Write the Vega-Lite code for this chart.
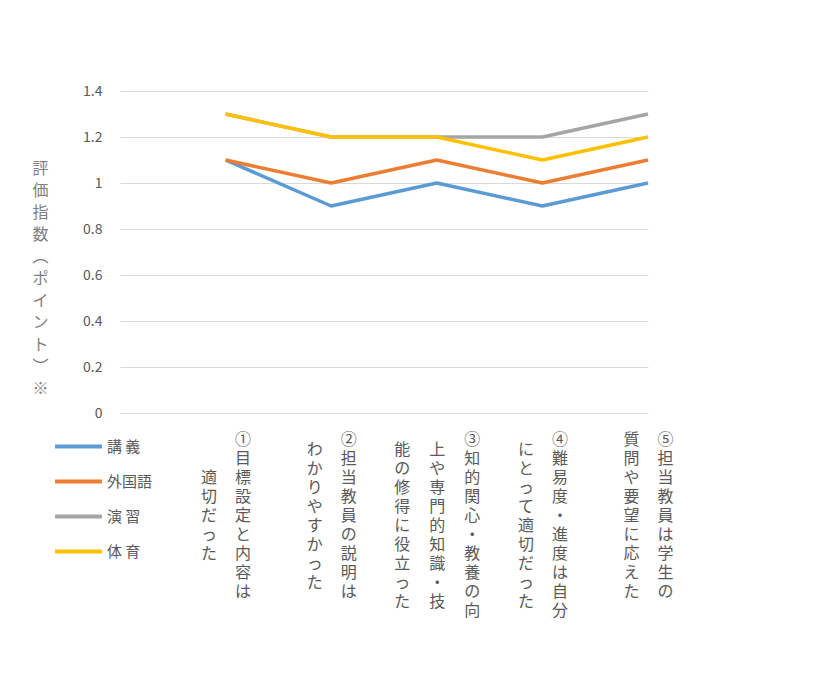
{
  "$schema": "https://vega.github.io/schema/vega-lite/v6.json",
  "width": 528,
  "height": 322,
  "autosize": "none",
  "padding": {"left": 120, "top": 91, "right": 187, "bottom": 268},
  "background": "white",
  "config": {"view": {"stroke": null}, "font": "Noto Sans CJK JP"},
  "data": {
    "values": [
      {"item": "①目標設定と内容は\n適切だった", "series": "講 義", "score": 1.1},
      {"item": "②担当教員の説明は\nわかりやすかった", "series": "講 義", "score": 0.9},
      {"item": "③知的関心・教養の向\n上や専門的知識・技\n能の修得に役立った", "series": "講 義", "score": 1.0},
      {"item": "④難易度・進度は自分\nにとって適切だった", "series": "講 義", "score": 0.9},
      {"item": "⑤担当教員は学生の\n質問や要望に応えた", "series": "講 義", "score": 1.0},
      {"item": "①目標設定と内容は\n適切だった", "series": "外国語", "score": 1.1},
      {"item": "②担当教員の説明は\nわかりやすかった", "series": "外国語", "score": 1.0},
      {"item": "③知的関心・教養の向\n上や専門的知識・技\n能の修得に役立った", "series": "外国語", "score": 1.1},
      {"item": "④難易度・進度は自分\nにとって適切だった", "series": "外国語", "score": 1.0},
      {"item": "⑤担当教員は学生の\n質問や要望に応えた", "series": "外国語", "score": 1.1},
      {"item": "①目標設定と内容は\n適切だった", "series": "演 習", "score": 1.3},
      {"item": "②担当教員の説明は\nわかりやすかった", "series": "演 習", "score": 1.2},
      {"item": "③知的関心・教養の向\n上や専門的知識・技\n能の修得に役立った", "series": "演 習", "score": 1.2},
      {"item": "④難易度・進度は自分\nにとって適切だった", "series": "演 習", "score": 1.2},
      {"item": "⑤担当教員は学生の\n質問や要望に応えた", "series": "演 習", "score": 1.3},
      {"item": "①目標設定と内容は\n適切だった", "series": "体 育", "score": 1.3},
      {"item": "②担当教員の説明は\nわかりやすかった", "series": "体 育", "score": 1.2},
      {"item": "③知的関心・教養の向\n上や専門的知識・技\n能の修得に役立った", "series": "体 育", "score": 1.2},
      {"item": "④難易度・進度は自分\nにとって適切だった", "series": "体 育", "score": 1.1},
      {"item": "⑤担当教員は学生の\n質問や要望に応えた", "series": "体 育", "score": 1.2}
    ]
  },
  "encoding": {
    "y": {
      "field": "score",
      "type": "quantitative",
      "scale": {"domain": [0, 1.4], "nice": false},
      "axis": {
        "values": [0, 0.2, 0.4, 0.6, 0.8, 1, 1.2, 1.4],
        "format": "~g",
        "domain": false,
        "ticks": false,
        "tickSize": 0,
        "labelPadding": 18,
        "labelFontSize": 14,
        "labelColor": "#595959",
        "gridColor": "#d9d9d9",
        "gridWidth": 1,
        "title": ["評", "価", "指", "数", "︵", "ポ", "イ", "ン", "ト", "︶", "※"],
        "titleAngle": 0,
        "titleX": -80,
        "titleY": 77,
        "titleAlign": "center",
        "titleBaseline": "middle",
        "titleFontSize": 16,
        "titleLineHeight": 22,
        "titleFontWeight": "normal",
        "titleColor": "#7f7f7f"
      }
    },
    "color": {
      "field": "series",
      "type": "nominal",
      "scale": {
        "domain": ["講 義", "外国語", "演 習", "体 育"],
        "range": ["#5b9bd5", "#ed7d31", "#a5a5a5", "#ffc000"]
      },
      "legend": {
        "orient": "none",
        "legendX": -67,
        "legendY": 330,
        "title": null,
        "symbolType": "stroke",
        "symbolSize": 2200,
        "symbolStrokeWidth": 4,
        "labelFontSize": 15,
        "labelColor": "#595959",
        "labelOffset": 3,
        "rowPadding": 1
      }
    }
  },
  "layer": [
    {
      "transform": [{"filter": {"field": "series", "equal": "講 義"}}],
      "mark": {"type": "line", "strokeWidth": 3.5, "strokeJoin": "round"},
      "encoding": {
        "x": {
          "field": "item",
          "type": "ordinal",
          "scale": {"type": "point", "padding": 0.5, "align": 1},
          "axis": {
            "orient": "bottom",
            "title": null,
            "domain": false,
            "ticks": false,
            "tickSize": 0,
            "grid": false,
            "labelExpr": "split(split(datum.value, '\\n')[0], '')",
            "labelAngle": 0,
            "labelAlign": "center",
            "labelBaseline": "middle",
            "labelPadding": 26.5,
            "labelFontSize": 16,
            "labelLineHeight": 19,
            "labelColor": "#595959",
            "labelOverlap": false,
            "labelLimit": 0,
            "labelOffset": {"condition": {"test": "length(split(datum.value, '\\n')) > 2", "value": 35}, "value": 17}
          }
        }
      }
    },
    {
      "transform": [{"filter": {"field": "series", "equal": "外国語"}}],
      "mark": {"type": "line", "strokeWidth": 3.5, "strokeJoin": "round"},
      "encoding": {
        "x": {
          "field": "item",
          "type": "ordinal",
          "scale": {"type": "point", "padding": 0.5, "align": 1},
          "axis": {
            "orient": "bottom",
            "title": null,
            "domain": false,
            "ticks": false,
            "tickSize": 0,
            "grid": false,
            "labelExpr": "split(split(datum.value, '\\n')[1], '')",
            "labelAngle": 0,
            "labelAlign": "center",
            "labelBaseline": "middle",
            "labelPadding": {
              "condition": [
                {"test": "length(split(datum.value, '\\n')[0]) - length(split(datum.value, '\\n')[1]) == 4", "value": 64.5},
                {"test": "length(split(datum.value, '\\n')[0]) == length(split(datum.value, '\\n')[1])", "value": 26.5}
              ],
              "value": 36
            },
            "labelFontSize": 16,
            "labelLineHeight": 19,
            "labelColor": "#595959",
            "labelOverlap": false,
            "labelLimit": 0,
            "labelOffset": {"condition": {"test": "length(split(datum.value, '\\n')) > 2", "value": 0}, "value": -17}
          }
        }
      }
    },
    {
      "transform": [{"filter": {"field": "series", "equal": "演 習"}}],
      "mark": {"type": "line", "strokeWidth": 3.5, "strokeJoin": "round"},
      "encoding": {
        "x": {
          "field": "item",
          "type": "ordinal",
          "scale": {"type": "point", "padding": 0.5, "align": 1},
          "axis": {
            "orient": "bottom",
            "title": null,
            "domain": false,
            "ticks": false,
            "tickSize": 0,
            "grid": false,
            "labelExpr": "length(split(datum.value, '\\n')) > 2 ? split(split(datum.value, '\\n')[2], '') : ''",
            "labelAngle": 0,
            "labelAlign": "center",
            "labelBaseline": "middle",
            "labelPadding": 36,
            "labelFontSize": 16,
            "labelLineHeight": 19,
            "labelColor": "#595959",
            "labelOverlap": false,
            "labelLimit": 0,
            "labelOffset": -35
          }
        }
      }
    },
    {
      "transform": [{"filter": {"field": "series", "equal": "体 育"}}],
      "mark": {"type": "line", "strokeWidth": 3.5, "strokeJoin": "round"},
      "encoding": {
        "x": {
          "field": "item",
          "type": "ordinal",
          "scale": {"type": "point", "padding": 0.5, "align": 1},
          "axis": null
        }
      }
    }
  ],
  "resolve": {"axis": {"x": "independent"}}
}
